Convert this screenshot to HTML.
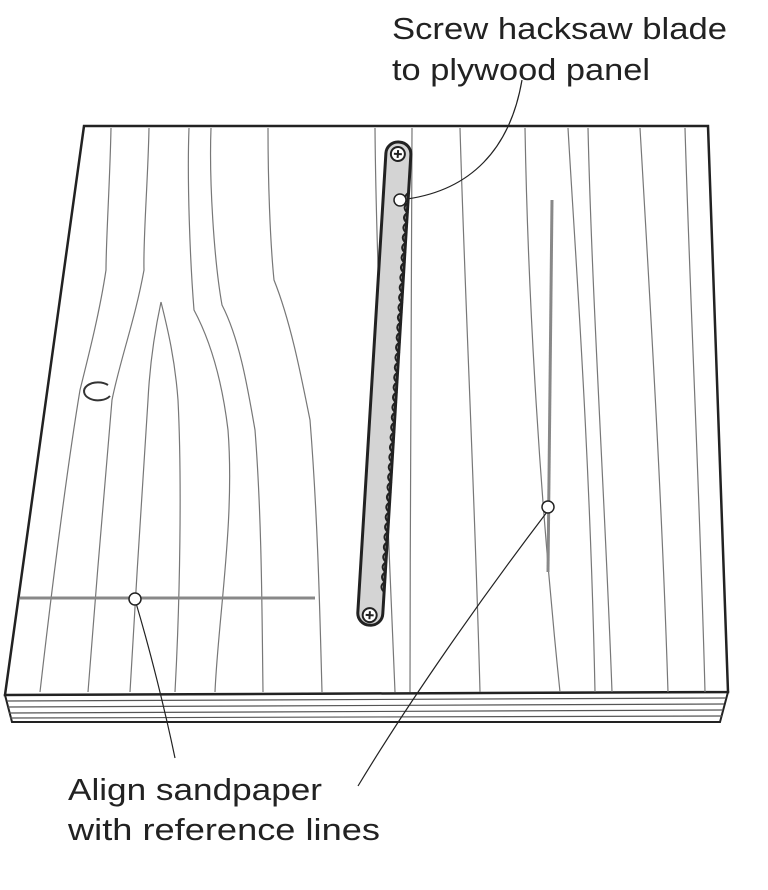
<!DOCTYPE html>
<html><head><style>
html,body{margin:0;padding:0;background:#fff;}
svg{display:block;}
text{font-family:"Liberation Sans",sans-serif;font-size:31px;fill:#222;}
</style></head><body>
<svg width="768" height="890" viewBox="0 0 768 890" xmlns="http://www.w3.org/2000/svg">
<rect width="768" height="890" fill="#fff"/>
<polygon points="5,695 728,692 720,722 12,722" fill="#fff" stroke="#222" stroke-width="2"/>
<g stroke="#555" stroke-width="1.2" fill="none">
<line x1="7" y1="701" x2="726" y2="698"/>
<line x1="8" y1="707" x2="724" y2="704"/>
<line x1="9" y1="713" x2="723" y2="710"/>
<line x1="10" y1="718" x2="722" y2="716"/>
</g>
<polygon points="84,126 708,126 728,692 5,695" fill="#fff" stroke="#222" stroke-width="2.5"/>
<g stroke="#777" stroke-width="1.2" fill="none">
<path d="M111,128 C110,180 106,240 106,270 C100,310 90,350 80,390 C70,450 55,560 40,692"/>
<path d="M149,128 C148,180 143,240 144,270 C135,320 120,360 112,400 C105,480 95,600 88,692"/>
<path d="M161,302 C155,330 150,360 148,400 C143,480 135,600 130,692"/>
<path d="M161,302 C168,330 175,360 178,400 C182,480 180,600 175,692"/>
<path d="M189,128 C187,180 190,260 194,310 C210,340 222,380 228,430 C235,520 218,620 215,692"/>
<path d="M211,128 C209,180 214,260 222,305 C240,340 248,390 255,430 C262,520 262,620 263,692"/>
<path d="M268,128 C268,180 270,240 274,280 C290,320 300,370 310,420 C318,520 320,620 322,692"/>
<path d="M375,128 C376,260 385,450 395,692"/>
<path d="M412,128 C412,300 410,500 410,692"/>
<path d="M460,128 C465,300 475,500 480,692"/>
<path d="M525,128 C528,300 540,500 560,692"/>
<path d="M568,128 C575,250 590,450 595,692"/>
<path d="M588,128 C592,300 605,500 612,692"/>
<path d="M640,128 C650,300 662,500 668,692"/>
<path d="M685,128 C690,300 700,500 705,692"/>
</g>
<path d="M108,385 A14,9 0 1,0 110,396" stroke="#333" stroke-width="2" fill="none"/>
<line x1="20" y1="598" x2="315" y2="598" stroke="#888" stroke-width="3"/>
<line x1="552" y1="200" x2="548" y2="572" stroke="#888" stroke-width="3"/>
<g transform="translate(398,152) rotate(3.5)">
<rect x="-12" y="-10" width="25" height="484" rx="12" fill="#d4d4d4" stroke="#222" stroke-width="3"/>
<path d="M13,40 q-6,5 0,10 q-6,5 0,10 q-6,5 0,10 q-6,5 0,10 q-6,5 0,10 q-6,5 0,10 q-6,5 0,10 q-6,5 0,10 q-6,5 0,10 q-6,5 0,10 q-6,5 0,10 q-6,5 0,10 q-6,5 0,10 q-6,5 0,10 q-6,5 0,10 q-6,5 0,10 q-6,5 0,10 q-6,5 0,10 q-6,5 0,10 q-6,5 0,10 q-6,5 0,10 q-6,5 0,10 q-6,5 0,10 q-6,5 0,10 q-6,5 0,10 q-6,5 0,10 q-6,5 0,10 q-6,5 0,10 q-6,5 0,10 q-6,5 0,10 q-6,5 0,10 q-6,5 0,10 q-6,5 0,10 q-6,5 0,10 q-6,5 0,10 q-6,5 0,10 q-6,5 0,10 q-6,5 0,10 q-6,5 0,10 q-6,5 0,10" fill="none" stroke="#222" stroke-width="2"/>
<circle cx="0" cy="2" r="7" fill="#fff" stroke="#222" stroke-width="2"/>
<path d="M-4,2 h8 M0,-2 v8" stroke="#222" stroke-width="2"/>
<circle cx="0" cy="464" r="7" fill="#fff" stroke="#222" stroke-width="2"/>
<path d="M-4,464 h8 M0,460 v8" stroke="#222" stroke-width="2"/>
</g>
<g stroke="#222" stroke-width="1.2" fill="none">
<path d="M407,199 C470,190 510,150 522,80"/>
<path d="M136,603 C150,650 165,710 175,758"/>
<path d="M547,512 C480,600 410,700 358,786"/>
</g>
<circle cx="400" cy="200" r="6" fill="#fff" stroke="#222" stroke-width="1.5"/>
<circle cx="135" cy="599" r="6" fill="#fff" stroke="#222" stroke-width="1.5"/>
<circle cx="548" cy="507" r="6" fill="#fff" stroke="#222" stroke-width="1.5"/>
<text x="392" y="39" textLength="335" lengthAdjust="spacingAndGlyphs">Screw hacksaw blade</text>
<text x="392" y="80" textLength="258" lengthAdjust="spacingAndGlyphs">to plywood panel</text>
<text x="68" y="800" textLength="254" lengthAdjust="spacingAndGlyphs">Align sandpaper</text>
<text x="68" y="840" textLength="312" lengthAdjust="spacingAndGlyphs">with reference lines</text>
</svg>
</body></html>
